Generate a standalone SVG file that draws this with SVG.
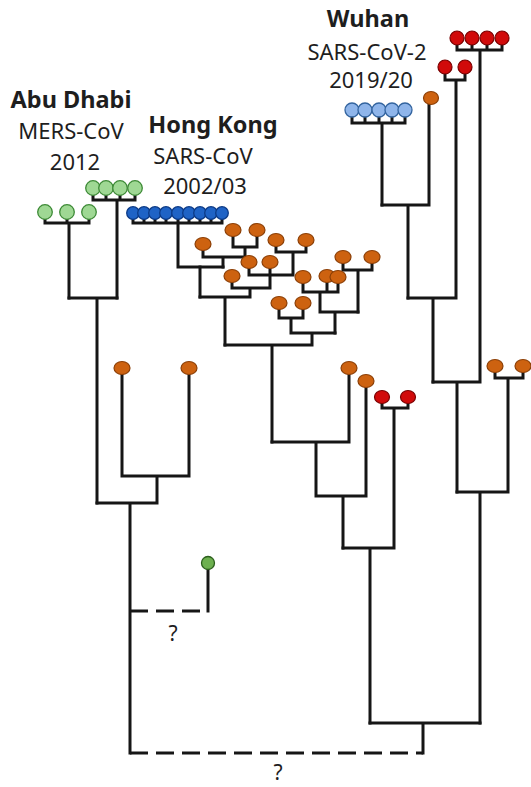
<svg xmlns="http://www.w3.org/2000/svg" width="531" height="787" viewBox="0 0 531 787">
<style>
.edge path{fill:none;stroke:#161616;stroke-width:3;stroke-linecap:square;stroke-linejoin:miter}
.edge path.dash{stroke-dasharray:18 8;stroke-linecap:butt}
.lg{fill:#9fd894;stroke:#3d8a36;stroke-width:1.3}
.db{fill:#1f63c6;stroke:#0c3a86;stroke-width:1.3}
.lb{fill:#8fb5ea;stroke:#33649f;stroke-width:1.3}
.or{fill:#cd6210;stroke:#8c3f06;stroke-width:1.2}
.rd{fill:#d10a0a;stroke:#7a0000;stroke-width:1.2}
.gr{fill:#6db04f;stroke:#2b5e1c;stroke-width:1.3}
text{font-family:"Noto Sans","DejaVu Sans",sans-serif;fill:#1e1e1e;text-anchor:middle}
.t{font-weight:bold;font-size:23.5px}
.s{font-size:22px}
.q{font-size:21px}
</style>
<rect width="531" height="787" fill="#fff"/>

<g id="connectors" class="edge">
  <!-- MERS -->
  <path d="M45 212V223H89V212M67 212V223M69 223V298"/>
  <path d="M93 188V200H135V188M106 188V200M120 188V200M117 200V298"/>
  <path d="M69 298H117M97 298V503"/>
  <path d="M122 368V476H189V368M157 476V503M97 503H157M130 503V753"/>
  <path class="dash" d="M130 611H208"/>
  <path d="M208 563V611"/>
  <path class="dash" d="M130 753H423"/>
  <path d="M423 753V723M370 723H480"/>
  <!-- Hong Kong SARS -->
  <path d="M133 213V223H222V213M144 213V223M155 213V223M166 213V223M178 213V223M189 213V223M200 213V223M211 213V223M178 223V267H223"/>
  <!-- central orange cluster -->
  <path d="M233 230V247H257V230M245 247V257M203 244V257H245M223 257V267M200 267V297"/>
  <path d="M276 240V252H306V240M293 252V275M249 262V275H293M270 262V288M232 276V288H270M250 288V297M200 297H250M225 297V345"/>
  <path d="M343 257V270H372V257M358 270V312"/>
  <path d="M303 277V292H338V277M327 276V292M320 292V312H358M335 312V333"/>
  <path d="M279 303V318H303V303M291 318V333H335M312 333V345M225 345H312M272 345V442"/>
  <!-- lower middle -->
  <path d="M349 368V442H272M316 442V496M366 381V496H316M343 496V548"/>
  <path d="M382 397V408H408V397M394 408V548M343 548H394M370 548V723"/>
  <!-- Wuhan side -->
  <path d="M352 110V123H405V110M365 110V123M379 110V123M392 110V123M382 123V205"/>
  <path d="M429 98V205H382M408 205V298"/>
  <path d="M445 67V80H465V67M456 80V298H408M433 298V382"/>
  <path d="M457 38V50H502V38M472 38V50M487 38V50M480 50V382H433M457 382V492"/>
  <path d="M495 366V378H523V366M508 378V492H457M480 492V723"/>
</g>

<g id="mers-abu-dhabi-a">
  <circle class="lg" cx="45" cy="212" r="7.3"/>
  <circle class="lg" cx="67" cy="212" r="7.3"/>
  <circle class="lg" cx="89" cy="212" r="7.3"/>
</g>
<g id="mers-abu-dhabi-b">
  <circle class="lg" cx="93" cy="188" r="7.3"/>
  <circle class="lg" cx="106" cy="188" r="7.3"/>
  <circle class="lg" cx="120" cy="188" r="7.3"/>
  <circle class="lg" cx="135" cy="188" r="7.3"/>
</g>
<g id="mers-green-single">
  <circle class="gr" cx="208" cy="563" r="6.5"/>
</g>
<g id="mers-orange-pair">
  <ellipse class="or" cx="122" cy="368" rx="8" ry="6.5"/>
  <ellipse class="or" cx="189" cy="368" rx="8" ry="6.5"/>
</g>
<g id="sars-hong-kong">
  <circle class="db" cx="133" cy="213" r="6.3"/>
  <circle class="db" cx="144" cy="213" r="6.3"/>
  <circle class="db" cx="155" cy="213" r="6.3"/>
  <circle class="db" cx="166" cy="213" r="6.3"/>
  <circle class="db" cx="178" cy="213" r="6.3"/>
  <circle class="db" cx="189" cy="213" r="6.3"/>
  <circle class="db" cx="200" cy="213" r="6.3"/>
  <circle class="db" cx="211" cy="213" r="6.3"/>
  <circle class="db" cx="222" cy="213" r="6.3"/>
</g>
<g id="sars-orange-cluster">
  <ellipse class="or" cx="203" cy="244" rx="8" ry="6.5"/>
  <ellipse class="or" cx="233" cy="230" rx="8" ry="6.5"/>
  <ellipse class="or" cx="257" cy="230" rx="8" ry="6.5"/>
  <ellipse class="or" cx="276" cy="240" rx="8" ry="6.5"/>
  <ellipse class="or" cx="306" cy="240" rx="8" ry="6.5"/>
  <ellipse class="or" cx="249" cy="262" rx="8" ry="6.5"/>
  <ellipse class="or" cx="270" cy="262" rx="8" ry="6.5"/>
  <ellipse class="or" cx="232" cy="276" rx="8" ry="6.5"/>
  <ellipse class="or" cx="343" cy="257" rx="8" ry="6.5"/>
  <ellipse class="or" cx="372" cy="257" rx="8" ry="6.5"/>
  <ellipse class="or" cx="303" cy="277" rx="8" ry="6.5"/>
  <ellipse class="or" cx="327" cy="276" rx="8" ry="6.5"/>
  <ellipse class="or" cx="338" cy="277" rx="8" ry="6.5"/>
  <ellipse class="or" cx="279" cy="303" rx="8" ry="6.5"/>
  <ellipse class="or" cx="303" cy="303" rx="8" ry="6.5"/>
</g>
<g id="orange-single-a">
  <ellipse class="or" cx="349" cy="368" rx="8" ry="6.5"/>
</g>
<g id="orange-single-b">
  <ellipse class="or" cx="366" cy="381" rx="8" ry="6.5"/>
</g>
<g id="red-pair-low">
  <ellipse class="rd" cx="382" cy="397" rx="7.5" ry="6.5"/>
  <ellipse class="rd" cx="408" cy="397" rx="7.5" ry="6.5"/>
</g>
<g id="wuhan-blue">
  <circle class="lb" cx="352" cy="110" r="7"/>
  <circle class="lb" cx="365" cy="110" r="7"/>
  <circle class="lb" cx="379" cy="110" r="7"/>
  <circle class="lb" cx="392" cy="110" r="7"/>
  <circle class="lb" cx="405" cy="110" r="7"/>
</g>
<g id="orange-single-c">
  <ellipse class="or" cx="431" cy="98" rx="7.5" ry="6.5"/>
</g>
<g id="red-pair-high">
  <circle class="rd" cx="445" cy="67" r="7"/>
  <circle class="rd" cx="465" cy="67" r="7"/>
</g>
<g id="red-four">
  <circle class="rd" cx="457" cy="38" r="7"/>
  <circle class="rd" cx="472" cy="38" r="7"/>
  <circle class="rd" cx="487" cy="38" r="7"/>
  <circle class="rd" cx="502" cy="38" r="7"/>
</g>
<g id="orange-pair-right">
  <ellipse class="or" cx="495" cy="366" rx="8" ry="6.5"/>
  <ellipse class="or" cx="523" cy="366" rx="8" ry="6.5"/>
</g>

<g id="label-abu-dhabi">
  <text class="t" x="71" y="108">Abu Dhabi</text>
  <text class="s" x="71" y="139">MERS-CoV</text>
  <text class="s" x="75" y="170">2012</text>
</g>
<g id="label-hong-kong">
  <text class="t" x="213" y="133">Hong Kong</text>
  <text class="s" x="203" y="164">SARS-CoV</text>
  <text class="s" x="205" y="194">2002/03</text>
</g>
<g id="label-wuhan">
  <text class="t" x="368" y="27">Wuhan</text>
  <text class="s" x="367" y="60">SARS-CoV-2</text>
  <text class="s" x="371" y="88">2019/20</text>
</g>
<g id="label-q1"><text class="q" x="173" y="641">?</text></g>
<g id="label-q2"><text class="q" x="278" y="780">?</text></g>
</svg>
